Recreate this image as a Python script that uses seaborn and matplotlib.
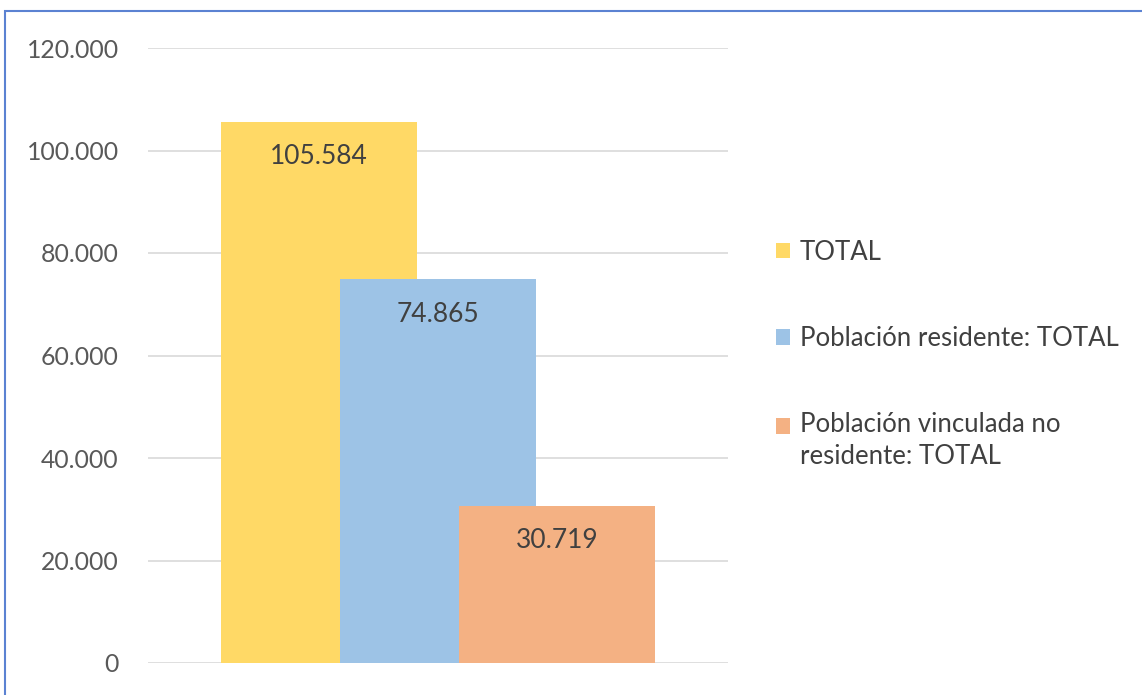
import pandas as pd
import seaborn as sns
import matplotlib.pyplot as plt
from matplotlib.patches import Patch, Rectangle

series = ['TOTAL', 'Población residente: TOTAL', 'Población vinculada no\nresidente: TOTAL']
values = [105584, 74865, 30719]
colors = ['#FFD966', '#9DC3E6', '#F4B183']
y_ticks = [0, 20000, 40000, 60000, 80000, 100000, 120000]

df = pd.DataFrame({'Serie': series, 'Valor': values})
palette = dict(zip(series, colors))

sns.set_style('white')
plt.rcParams['font.family'] = ['Lato', 'DejaVu Sans']

def fmt(v):
    return f'{v:,.0f}'.replace(',', '.')

fig = plt.figure(figsize=(11.42, 6.95), dpi=100)
ax = fig.add_axes([148 / 1142, 32 / 695, 580 / 1142, 615 / 695])

sns.barplot(data=df, x='Serie', y='Valor', hue='Serie', palette=palette,
            width=1.654, saturation=1, legend=False, ax=ax, zorder=2,
            linewidth=0, edgecolor='none')

ax.set_xlim(-1.443, 3.443)
ax.set_ylim(0, 120000)
ax.set_yticks(y_ticks)
ax.set_yticklabels([fmt(t) for t in y_ticks])
ax.set_xticks([])
ax.set_xlabel('')
ax.set_ylabel('')
ax.tick_params(axis='y', length=0, pad=21, labelsize=17.8, labelcolor='#595959')
ax.grid(axis='y', color='#D9D9D9', linewidth=1.2, zorder=0)
ax.set_axisbelow(True)
for s in ax.spines.values():
    s.set_visible(False)

for bar in ax.patches:
    h = bar.get_height()
    ax.annotate(fmt(h), (bar.get_x() + bar.get_width() / 2, h),
                xytext=(0, -25), textcoords='offset points',
                ha='center', va='center', fontsize=19, color='#404040')

handles = [Patch(facecolor=c, edgecolor='none') for c in colors]
leg = fig.legend(handles, series, loc='upper left',
                 bbox_to_anchor=(776 / 1142, 1 - 239.5 / 695),
                 frameon=False, fontsize=18.5, labelcolor='#404040', handlelength=0.545,
                 handleheight=0.545, handletextpad=0.39, labelspacing=2.39,
                 borderpad=0, borderaxespad=0)
for t in leg.get_texts():
    t.set_linespacing(1.33)
# keep the square of the two-line entry next to its first line
leg.legend_handles[2].set_y(leg.legend_handles[2].get_y() + 11.2)

fig.add_artist(Rectangle((5 / 1142, -0.5), 2, 0.5 + (1 - 11 / 695), transform=fig.transFigure,
                         fill=False, edgecolor='#5B82D2', linewidth=1.5, clip_on=False))

fig.savefig('out.png', dpi=100)
